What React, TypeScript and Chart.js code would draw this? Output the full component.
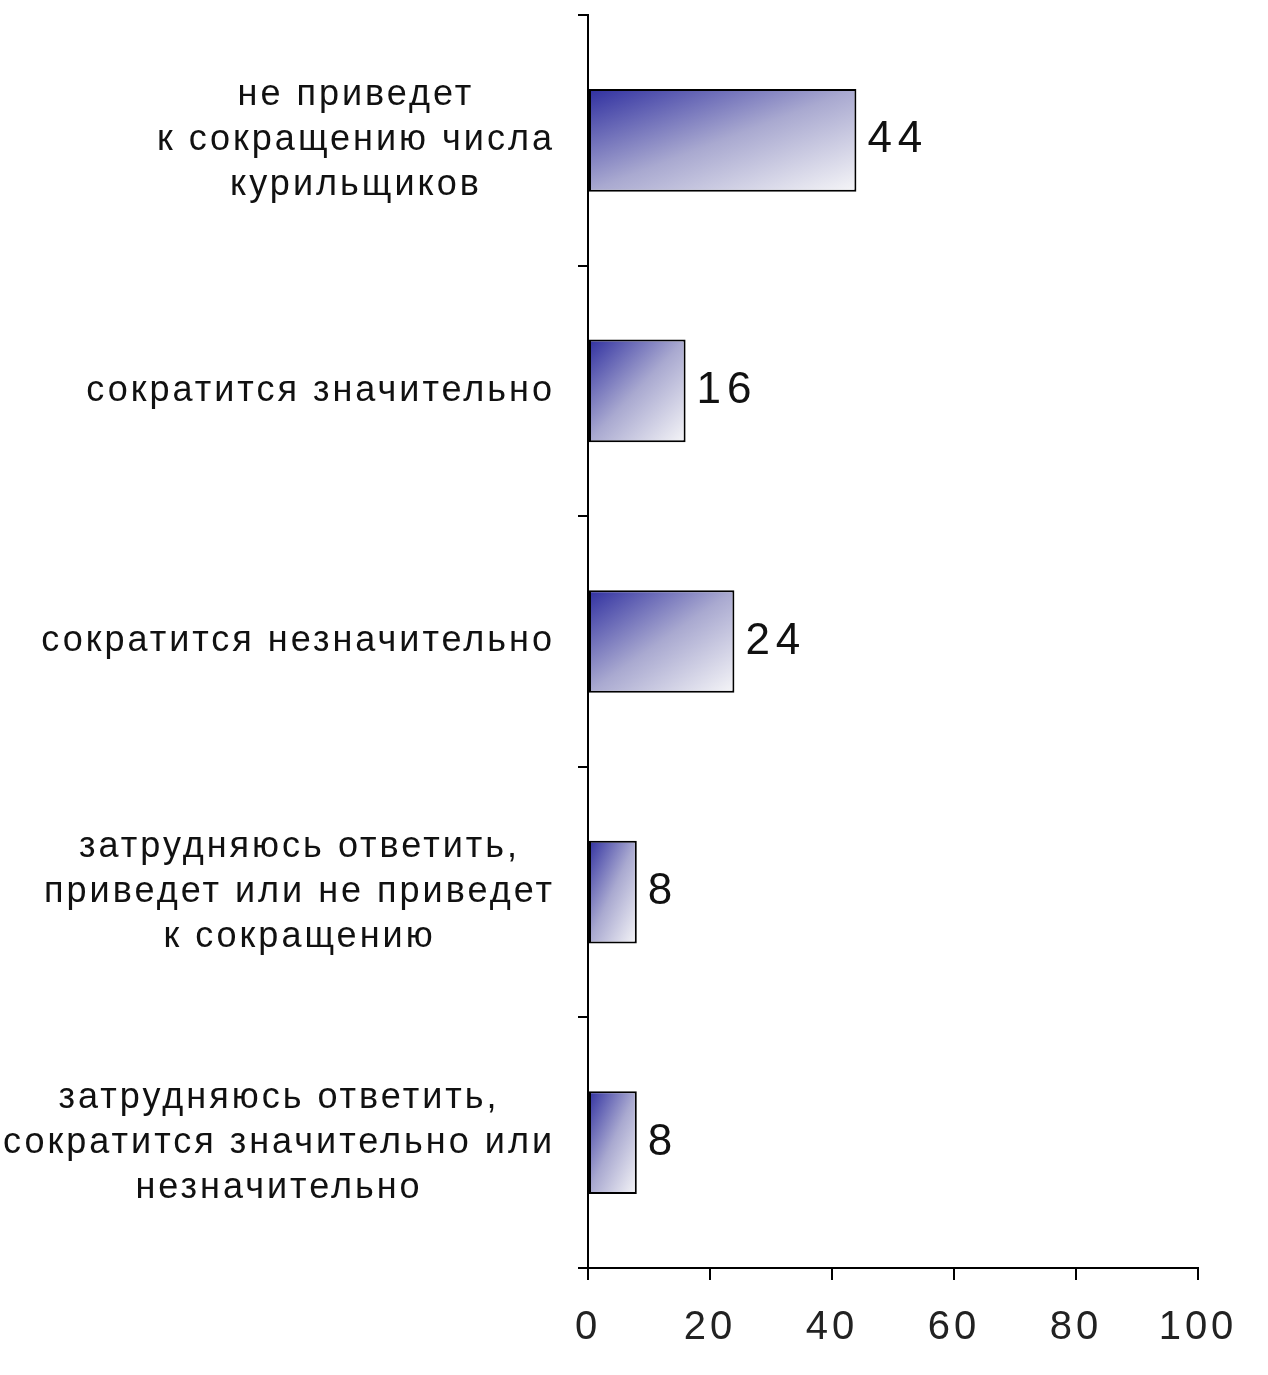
import React, { useEffect, useRef } from "react";
import { Chart, registerables } from "chart.js";

Chart.register(...registerables);

const categories: string[][] = [
  ["не приведет", "к сокращению числа", "курильщиков"],
  ["сократится значительно"],
  ["сократится незначительно"],
  ["затрудняюсь ответить,", "приведет или не приведет", "к сокращению"],
  ["затрудняюсь ответить,", "сократится значительно или", "незначительно"],
];
const values: number[] = [44, 16, 24, 8, 8];
const xTicks: number[] = [0, 20, 40, 60, 80, 100];

const FONT = '"Liberation Sans", Arial, sans-serif';
const BAR_PCT = 0.41;

function barGradient(ctx: any) {
  const chart = ctx.chart;
  const xs = chart.scales.x;
  const ys = chart.scales.y;
  if (!xs || !ys || ctx.type !== "data") return "#6666aa";
  const i = ctx.dataIndex;
  const v = values[i];
  const x0 = xs.getPixelForValue(0);
  const x1 = xs.getPixelForValue(v);
  const yc = ys.getPixelForValue(i);
  const band = Math.abs(ys.getPixelForValue(1) - ys.getPixelForValue(0));
  const h = band * BAR_PCT;
  const top = yc - h / 2;
  const w = x1 - x0;
  if (![x0, x1, yc, band, w, h].every((n) => Number.isFinite(n)) || w <= 0 || h <= 0) {
    return "#6666aa";
  }
  const vx = 1 / (2 * w);
  const vy = 1 / (2 * h);
  const n2 = vx * vx + vy * vy;
  const ex = vx / n2;
  const ey = vy / n2;
  const g = chart.ctx.createLinearGradient(x0, top, x0 + ex, top + ey);
  g.addColorStop(0, "#2f2fa0");
  g.addColorStop(0.5, "#a9a9d0");
  g.addColorStop(1, "#f6f6f8");
  return g;
}

const labelsPlugin = {
  id: "customLabels",
  beforeDraw(chart: any) {
    (chart.ctx as any).letterSpacing = "4px";
  },
  afterDraw(chart: any) {
    const ctx = chart.ctx;
    const xs = chart.scales.x;
    const ys = chart.scales.y;
    ctx.save();
    ctx.fillStyle = "#111";
    ctx.textBaseline = "middle";
    ctx.font = `36px ${FONT}`;
    (ctx as any).letterSpacing = "3px";
    const right = 555;
    const lh = 45;
    categories.forEach((lines, i) => {
      const yc = ys.getPixelForValue(i);
      const maxW = Math.max(...lines.map((l) => ctx.measureText(l).width));
      const cx = right - maxW / 2;
      ctx.textAlign = "center";
      lines.forEach((l, k) => {
        const y = yc + (k - (lines.length - 1) / 2) * lh;
        ctx.fillText(l, cx, y);
      });
    });
    ctx.font = `44px ${FONT}`;
    (ctx as any).letterSpacing = "6px";
    ctx.textAlign = "left";
    values.forEach((v, i) => {
      const x = xs.getPixelForValue(v) + 11;
      const y = ys.getPixelForValue(i);
      ctx.fillText(String(v), x, y);
    });
    ctx.restore();
    (ctx as any).letterSpacing = "0px";
  },
};

export default function App() {
  const ref = useRef<HTMLCanvasElement>(null);
  useEffect(() => {
    document.body.style.margin = "0";
    const canvas = ref.current!;
    const chart = new Chart(canvas, {
      type: "bar",
      data: {
        labels: categories.map((c) => c.join(" ")),
        datasets: [
          {
            data: values,
            backgroundColor: barGradient as any,
            borderColor: "#000",
            borderWidth: 2,
            borderSkipped: false,
            categoryPercentage: 1,
            barPercentage: BAR_PCT,
          },
        ],
      },
      options: {
        indexAxis: "y",
        responsive: false,
        animation: false,
        layout: { padding: { top: 15, right: 70, left: 0, bottom: 0 } },
        plugins: {
          legend: { display: false },
          tooltip: { enabled: false },
        },
        scales: {
          x: {
            min: 0,
            max: 100,
            afterBuildTicks: (s: any) => {
              s.ticks = xTicks.map((v) => ({ value: v }));
            },
            grid: {
              drawOnChartArea: false,
              drawTicks: true,
              tickLength: 12,
              color: "#000",
              lineWidth: 2,
            },
            border: { color: "#000", width: 2 },
            ticks: {
              color: "#222",
              font: { family: FONT, size: 40 },
              padding: 24,
              maxRotation: 0,
            },
            afterFit: (s: any) => {
              s.height = 107;
            },
          },
          y: {
            offset: true,
            grid: {
              offset: true,
              drawOnChartArea: false,
              drawTicks: true,
              tickLength: 10,
              color: "#000",
              lineWidth: 2,
            },
            border: { color: "#000", width: 2 },
            ticks: { display: false },
            afterFit: (s: any) => {
              s.width = 588;
            },
          },
        },
      },
      plugins: [labelsPlugin],
    });
    chart.update();
    return () => chart.destroy();
  }, []);
  return <canvas ref={ref} width={1268} height={1375} style={{ display: "block" }} />;
}
